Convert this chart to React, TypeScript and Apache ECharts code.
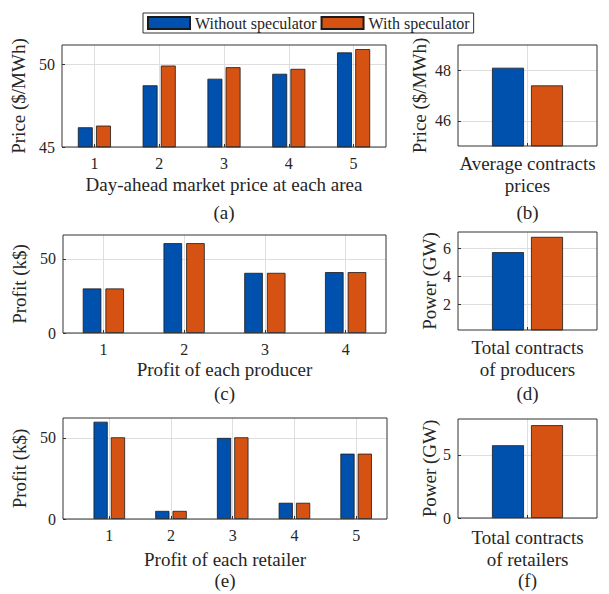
import { useEffect, useRef } from "react";
import * as echarts from "echarts";

// ---------- data ----------
const seriesNames = ["Without speculator", "With speculator"];

const areas = [1, 2, 3, 4, 5];
const priceWithout = [46.2, 48.75, 49.15, 49.45, 50.75];
const priceWith = [46.3, 49.95, 49.85, 49.75, 50.95];

const avgPriceWithout = [48.1];
const avgPriceWith = [47.4];

const producers = [1, 2, 3, 4];
const producerProfitWithout = [30, 60.5, 40.5, 41];
const producerProfitWith = [30, 60.5, 40.5, 41];

const producerPowerWithout = [5.75];
const producerPowerWith = [6.85];

const retailers = [1, 2, 3, 4, 5];
const retailerProfitWithout = [60, 5, 50, 10, 40.3];
const retailerProfitWith = [50.4, 5, 50.4, 10, 40.3];

const retailerPowerWithout = [5.77];
const retailerPowerWith = [7.36];

const single = [1];

const yTicksA = [45, 50];
const yTicksB = [46, 48];
const yTicksC = [0, 50];
const yTicksD = [2, 4, 6];
const yTicksE = [0, 50];
const yTicksF = [0, 5];

const FONT = "Liberation Serif, Times New Roman, serif";
const TXT = "#262626";
const BLUE = "#0050AE";
const ORANGE = "#D65212";
const GRIDC = "#dedede";

type Panel = {
  grid: { left: number; top: number; width: number; height: number };
  cats: number[];
  xMin: number;
  xMax: number;
  showXLabels: boolean;
  xName: string;
  xNameGap: number;
  yMin: number;
  yMax: number;
  yTicks: number[];
  yName: string;
  yNameGap: number;
  without: number[];
  withS: number[];
  tag: string;
  tagY: number;
};

const panels: Panel[] = [
  {
    grid: { left: 62, top: 45, width: 324, height: 102 },
    cats: areas, xMin: 0.5, xMax: 5.5, showXLabels: true,
    xName: "Day-ahead market price at each area", xNameGap: 26,
    yMin: 45, yMax: 51.2, yTicks: yTicksA, yName: "Price ($/MWh)", yNameGap: 27,
    without: priceWithout, withS: priceWith, tag: "(a)", tagY: 212,
  },
  {
    grid: { left: 458, top: 45, width: 139, height: 101 },
    cats: single, xMin: 0.5, xMax: 1.5, showXLabels: false,
    xName: "Average contracts\nprices", xNameGap: 6,
    yMin: 45, yMax: 49, yTicks: yTicksB, yName: "Price ($/MWh)", yNameGap: 29,
    without: avgPriceWithout, withS: avgPriceWith, tag: "(b)", tagY: 212,
  },
  {
    grid: { left: 63, top: 235, width: 323, height: 98 },
    cats: producers, xMin: 0.5, xMax: 4.5, showXLabels: true,
    xName: "Profit of each producer", xNameGap: 25,
    yMin: 0, yMax: 66, yTicks: yTicksC, yName: "Profit (k$)", yNameGap: 28,
    without: producerProfitWithout, withS: producerProfitWith, tag: "(c)", tagY: 393,
  },
  {
    grid: { left: 458, top: 232, width: 139, height: 98 },
    cats: single, xMin: 0.5, xMax: 1.5, showXLabels: false,
    xName: "Total contracts\nof producers", xNameGap: 6,
    yMin: 0.15, yMax: 7.2, yTicks: yTicksD, yName: "Power (GW)", yNameGap: 16,
    without: producerPowerWithout, withS: producerPowerWith, tag: "(d)", tagY: 393,
  },
  {
    grid: { left: 63, top: 418, width: 324, height: 101 },
    cats: retailers, xMin: 0.25, xMax: 5.5, showXLabels: true,
    xName: "Profit of each retailer", xNameGap: 29,
    yMin: 0, yMax: 62.3, yTicks: yTicksE, yName: "Profit (k$)", yNameGap: 28,
    without: retailerProfitWithout, withS: retailerProfitWith, tag: "(e)", tagY: 580,
  },
  {
    grid: { left: 458, top: 419, width: 139, height: 99 },
    cats: single, xMin: 0.5, xMax: 1.5, showXLabels: false,
    xName: "Total contracts\nof retailers", xNameGap: 8,
    yMin: 0, yMax: 7.85, yTicks: yTicksF, yName: "Power (GW)", yNameGap: 16,
    without: retailerPowerWithout, withS: retailerPowerWith, tag: "(f)", tagY: 580,
  },
];

function buildOption() {
  const grid: any[] = [];
  const xAxis: any[] = [];
  const yAxis: any[] = [];
  const series: any[] = [];
  const graphic: any[] = [];

  panels.forEach((p, i) => {
    grid.push({ ...p.grid, containLabel: false });
    xAxis.push({
      type: "value",
      gridIndex: i,
      min: p.xMin,
      max: p.xMax,
      axisLine: { show: false },
      axisTick: {
        show: true,
        inside: true,
        length: 3,
        customValues: p.cats,
        lineStyle: { color: "#333" },
      },
      axisLabel: {
        show: p.showXLabels,
        customValues: p.cats,
        fontFamily: FONT,
        fontSize: 16,
        color: TXT,
        margin: 8,
      },
      splitLine: { show: true, lineStyle: { color: GRIDC, width: 1 } },
      name: p.xName,
      nameLocation: "middle",
      nameGap: p.xNameGap,
      nameTextStyle: { fontFamily: FONT, fontSize: 19, color: TXT, lineHeight: 22 },
    });
    yAxis.push({
      type: "value",
      gridIndex: i,
      min: p.yMin,
      max: p.yMax,
      axisLine: { show: false },
      axisTick: {
        show: true,
        inside: true,
        length: 3,
        customValues: p.yTicks,
        lineStyle: { color: "#333" },
      },
      axisLabel: {
        customValues: p.yTicks,
        fontFamily: FONT,
        fontSize: 16,
        color: TXT,
        margin: 7,
      },
      splitLine: { show: true, lineStyle: { color: GRIDC, width: 1 } },
      name: p.yName,
      nameLocation: "middle",
      nameRotate: 90,
      nameGap: p.yNameGap,
      nameTextStyle: { fontFamily: FONT, fontSize: 19, color: TXT },
    });
    const mk = (vals: number[], name: string, color: string) => ({
      type: "bar",
      name,
      xAxisIndex: i,
      yAxisIndex: i,
      data: p.cats.map((c, k) => [c, vals[k]]),
      barWidth: "23%",
      barGap: "22%",
      clip: true,
      itemStyle: { color, borderColor: "#1a1a1a", borderWidth: 0.8 },
    });
    series.push(mk(p.without, seriesNames[0], BLUE));
    series.push(mk(p.withS, seriesNames[1], ORANGE));

    graphic.push({
      type: "rect",
      z: 100,
      shape: { x: p.grid.left, y: p.grid.top, width: p.grid.width, height: p.grid.height },
      style: { fill: "none", stroke: "#333", lineWidth: 1 },
      silent: true,
    });
    graphic.push({
      type: "text",
      z: 100,
      x: p.grid.left + p.grid.width / 2,
      y: p.tagY,
      style: {
        text: p.tag,
        fontFamily: FONT,
        fontSize: 19,
        fill: TXT,
        textAlign: "center",
        textVerticalAlign: "middle",
      },
    });
  });

  return {
    animation: false,
    backgroundColor: "#ffffff",
    legend: {
      data: seriesNames,
      left: 143,
      top: 13,
      icon: "rect",
      itemWidth: 42,
      itemHeight: 12,
      itemGap: 4,
      padding: [2, 4, 2, 4],
      borderColor: "#333",
      borderWidth: 1,
      textStyle: { fontFamily: FONT, fontSize: 16, color: TXT },
    },
    grid,
    xAxis,
    yAxis,
    series,
    graphic,
  };
}

export default function App() {
  const ref = useRef<HTMLDivElement>(null);
  useEffect(() => {
    if (!ref.current) return;
    const chart = echarts.init(ref.current, undefined, { renderer: "svg" });
    chart.setOption(buildOption() as any);
    return () => chart.dispose();
  }, []);
  return (
    <div
      ref={ref}
      style={{ position: "fixed", left: 0, top: 0, width: 609, height: 594, background: "#fff" }}
    />
  );
}
